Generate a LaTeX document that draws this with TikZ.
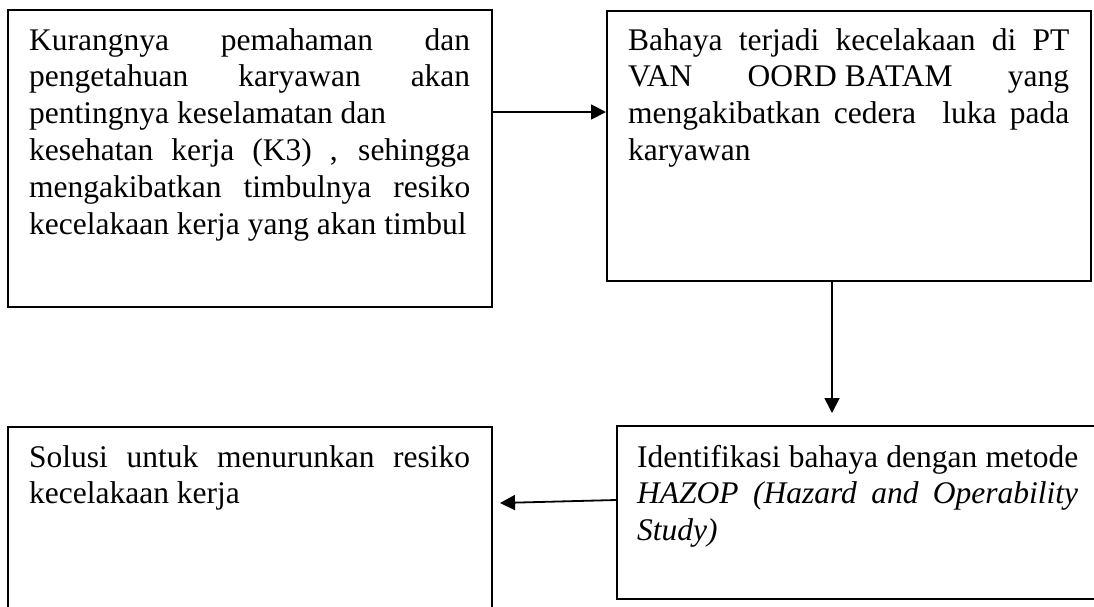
\documentclass[tikz,border=0pt]{standalone}
\usepackage{fontspec}
\setmainfont{Liberation Serif}
\usetikzlibrary{arrows.meta}
\newcommand{\boxtext}[1]{\begin{minipage}[t]{441pt}\fontsize{31.5pt}{36.8pt}\selectfont #1\end{minipage}}
\begin{document}
\begin{tikzpicture}[x=1pt,y=-1pt,
  frame/.style={draw=black, line width=1.8pt, rectangle, anchor=north west, inner sep=0pt},
  txt/.style={anchor=base west, inner sep=0pt, text=black},
  arr/.style={draw=black, line width=1.8pt, -{Triangle[length=15pt,width=15pt]}}]
\useasboundingbox (0,0) rectangle (1094,606);
\clip (0,0) rectangle (1094,606);
\fill[white] (0,0) rectangle (1094,606);
% boxes
\node[frame, minimum width=484pt, minimum height=297pt] (b1) at (7,9) {};
\node[frame, minimum width=484pt, minimum height=270pt] (b2) at (606,10) {};
\node[frame, minimum width=484pt, minimum height=173pt] (b3) at (616,425) {};
\node[frame, minimum width=484pt, minimum height=230pt] (b4) at (7,426) {};
% texts
\node[txt] (t1) at (29,50) {\boxtext{Kurangnya pemahaman dan\linebreak
pengetahuan karyawan akan\linebreak
pentingnya keselamatan dan\\
kesehatan kerja (K3) , sehingga\linebreak
mengakibatkan timbulnya resiko\linebreak
kecelakaan kerja yang akan timbul}};
\node[txt] (t2) at (628,50) {\boxtext{Bahaya terjadi kecelakaan di PT\linebreak
VAN \mbox{OORD BATAM} yang\linebreak
mengakibatkan cedera\ \ luka pada\linebreak
karyawan}};
\node[txt] (t3) at (637,467) {\boxtext{Identifikasi bahaya dengan metode\linebreak
\textit{HAZOP (Hazard and Operability\linebreak
Study)}}};
\node[txt] (t4) at (29,467) {\boxtext{Solusi untuk menurunkan resiko\linebreak
kecelakaan kerja}};
% connectors
\coordinate (a2end) at (832,413);
\coordinate (a3end) at (500,503);
\draw[arr] (b1.east |- 0,112) -- (b2.west |- 0,112);
\draw[arr] (b2.south -| a2end) -- (a2end);
\draw[arr] (b3.west |- 0,500) -- (a3end);
\end{tikzpicture}
\end{document}
